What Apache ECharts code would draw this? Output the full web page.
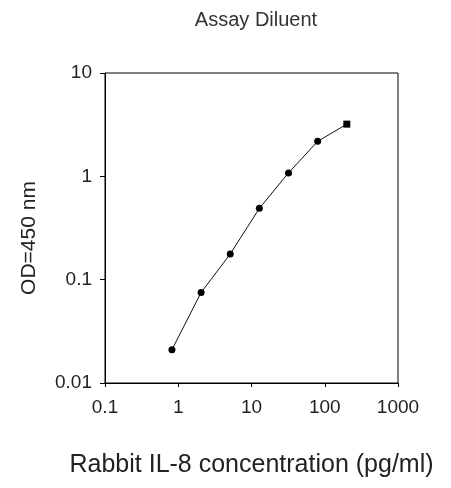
<!DOCTYPE html>
<html>
<head>
<meta charset="utf-8">
<script src="https://cdn.jsdelivr.net/npm/echarts@6/dist/echarts.min.js"></script>
<style>
html,body{margin:0;padding:0;background:#fff;}
#chart{width:451px;height:488px;}
</style>
</head>
<body>
<div id="chart"></div>
<script>
const concentrations = [0.82, 2.05, 5.12, 12.8, 32, 80, 200];
const odValues = [0.021, 0.075, 0.177, 0.49, 1.08, 2.18, 3.2];
const xTickLabels = ['0.1', '1', '10', '100', '1000'];
const yTickLabels = ['0.01', '0.1', '1', '10'];

const points = concentrations.map((c, i) => ({
  value: [c, odValues[i]],
  symbol: i === concentrations.length - 1 ? 'rect' : 'circle'
}));

const font = 'Liberation Sans, Arial, sans-serif';
const textColor = '#222';

const chart = echarts.init(document.getElementById('chart'));
chart.setOption({
  animation: false,
  backgroundColor: '#fff',
  title: {
    text: 'Assay Diluent',
    left: 251,
    textAlign: 'center',
    top: 5,
    textStyle: { fontFamily: font, fontSize: 20, fontWeight: 'normal', color: '#333' }
  },
  grid: {
    left: 105, top: 73, right: 53, bottom: 105,
    show: true, borderColor: '#000', borderWidth: 1, backgroundColor: 'transparent'
  },
  xAxis: {
    type: 'log', logBase: 10, min: 0.1, max: 1000,
    name: 'Rabbit IL-8 concentration (pg/ml)',
    nameLocation: 'middle', nameGap: 70,
    nameTextStyle: { fontFamily: font, fontSize: 25, color: textColor },
    axisLine: { lineStyle: { color: '#000', width: 1 } },
    axisTick: { show: true, length: 4, lineStyle: { color: '#000' } },
    minorTick: { show: false },
    splitLine: { show: false },
    axisLabel: {
      margin: 15, fontFamily: font, fontSize: 19, color: textColor,
      formatter: (v) => {
        const e = Math.round(Math.log10(v));
        return xTickLabels[e + 1];
      }
    }
  },
  yAxis: {
    type: 'log', logBase: 10, min: 0.01, max: 10,
    name: 'OD=450 nm',
    nameLocation: 'middle', nameGap: 65,
    nameTextStyle: { fontFamily: font, fontSize: 21, color: textColor, padding: [0, 20, 0, 0] },
    axisLine: { lineStyle: { color: '#000', width: 1 } },
    axisTick: { show: true, length: 5, lineStyle: { color: '#000' } },
    minorTick: { show: false },
    splitLine: { show: false },
    axisLabel: {
      margin: 13, fontFamily: font, fontSize: 19, color: textColor,
      formatter: (v) => {
        const e = Math.round(Math.log10(v));
        return yTickLabels[e + 2];
      }
    }
  },
  series: [{
    type: 'line',
    data: points,
    symbolSize: 7,
    lineStyle: { color: '#111', width: 1 },
    itemStyle: { color: '#000' }
  }]
});
</script>
</body>
</html>
